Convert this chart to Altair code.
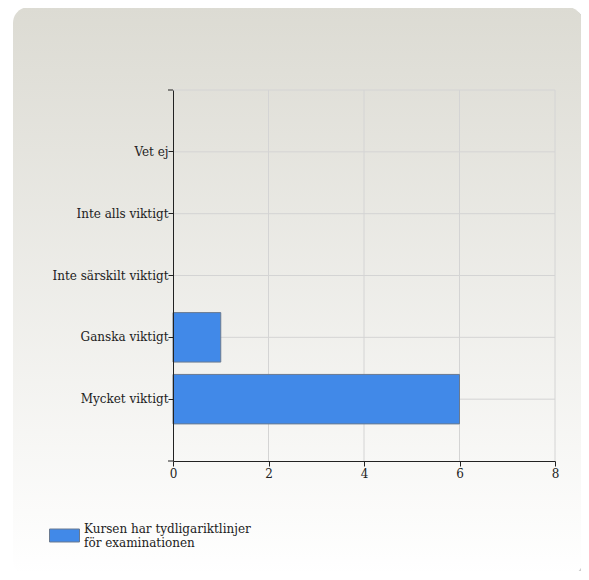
import altair as alt
import pandas as pd

categories = ["Vet ej", "Inte alls viktigt", "Inte särskilt viktigt", "Ganska viktigt", "Mycket viktigt"]
values = [0, 0, 0, 1, 6]
series_name = "Kursen har tydligariktlinjer\nför examinationen"
x_ticks = [0, 2, 4, 6, 8]

W, H = 382, 371
FONT = "DejaVu Serif"
FS = 12
BLUE = "#4189e8"
BAR_STROKE = "#6a7a90"
GRID = "#d4d4d4"
AXIS = "#222222"

df = pd.DataFrame({"category": categories, "value": values, "series": series_name})
grid_df = pd.DataFrame({"value": x_ticks[1:]})
cat_df = pd.DataFrame({"category": categories})
one = alt.Data(values=[{}])

y_scale = alt.Scale(domain=categories, paddingInner=0.2, paddingOuter=0.6)
x_scale = alt.Scale(domain=[0, 8])

x_axis = alt.Axis(values=x_ticks, grid=False, title=None, labelPadding=2, labelFlush=False, zindex=1,
                  labelFont=FONT)
y_axis = alt.Axis(grid=False, title=None, labelPadding=0, labelLimit=300, zindex=1,
                  labelFont=FONT)

shadow = alt.Chart(one).mark_rect(cornerRadius=16, fill="#9a9a9a", opacity=0.5).encode(
    x=alt.value(-157), x2=alt.value(413), y=alt.value(-80), y2=alt.value(489))

panel = alt.Chart(one).mark_rect(
    cornerRadius=16,
    fill=alt.Gradient(gradient="linear",
                      stops=[alt.GradientStop(color="#dcdbd3", offset=0),
                             alt.GradientStop(color="#ffffff", offset=1)],
                      x1=0, x2=0, y1=0, y2=1)
).encode(x=alt.value(-160), x2=alt.value(410), y=alt.value(-83), y2=alt.value(486))

vgrid = alt.Chart(grid_df).mark_rule(color=GRID).encode(
    x=alt.X("value:Q", scale=x_scale, axis=x_axis))
hgrid = alt.Chart(cat_df).mark_rule(color=GRID).encode(
    y=alt.Y("category:N", sort=categories, scale=y_scale, axis=y_axis))
topline = alt.Chart(one).mark_rule(color=GRID).encode(
    x=alt.value(0), x2=alt.value(W), y=alt.value(0))

bars = alt.Chart(df).mark_bar(stroke=BAR_STROKE, strokeWidth=1).encode(
    x=alt.X("value:Q", scale=x_scale, axis=x_axis),
    y=alt.Y("category:N", sort=categories, scale=y_scale, axis=y_axis),
    color=alt.Color("series:N", scale=alt.Scale(range=[BLUE]),
                    legend=alt.Legend(title=None, orient="none", legendX=-124, legendY=430,
                                      symbolType="M-1,-0.433H1V0.433H-1Z", symbolSize=900,
                                      symbolStrokeColor=BAR_STROKE, symbolStrokeWidth=1,
                                      labelExpr="split(datum.label, '\\n')",
                                      labelFont=FONT, labelBaseline="bottom", labelLimit=400,
                                      labelOffset=4, padding=0))
).transform_filter("datum.value > 0")

tick_top = alt.Chart(one).mark_rule(color=AXIS).encode(
    x=alt.value(-5), x2=alt.value(0), y=alt.value(0))
tick_bottom = alt.Chart(one).mark_rule(color=AXIS).encode(
    x=alt.value(-5), x2=alt.value(0), y=alt.value(H))

chart = alt.layer(shadow, panel, vgrid, hgrid, topline, bars, tick_top, tick_bottom).properties(
    width=W, height=H, autosize="none",
    padding={"left": 165, "top": 82, "right": 26, "bottom": 110}
).configure_view(stroke="transparent").configure(
    background="white"
).configure_axis(
    labelFontSize=FS, labelColor=AXIS, domainColor=AXIS, tickColor=AXIS, tickSize=5
).configure_legend(
    labelFontSize=FS, labelColor=AXIS
)

chart.save("out.html", embed_options={"renderer": "svg", "actions": False})
